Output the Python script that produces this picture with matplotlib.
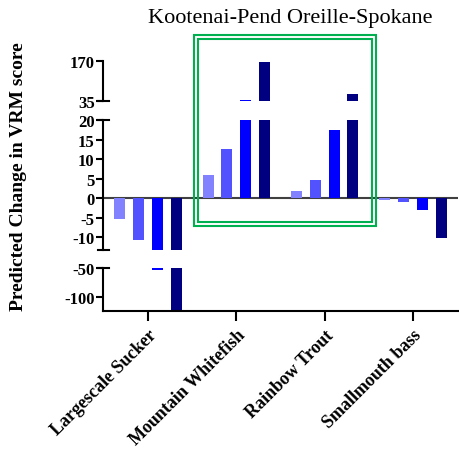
import matplotlib
matplotlib.use("Agg")
import matplotlib.pyplot as plt
from matplotlib.patches import Rectangle
import numpy as np

# ---- data ----
categories = ["Largescale Sucker", "Mountain Whitefish", "Rainbow Trout", "Smallmouth bass"]
series1 = [-5.5, 6.0, 1.8, -0.5]
series2 = [-10.8, 12.6, 4.6, -1.1]
# values beyond the axis breaks
series3 = [-53.0, 38.0, 17.4, -3.0]
series4 = [-130.0, 168.0, 58.0, -10.3]
top_ticks = [35, 170]
mid_ticks = [-10, -5, 0, 5, 10, 15, 20]
bot_ticks = [-100, -50]
title = "Kootenai-Pend Oreille-Spokane"
ylabel = "Predicted Change in VRM score"

colors = ["#8282ff", "#5252ff", "#0000ff", "#000080"]
offsets = [-0.32, -0.107, 0.107, 0.32]
width = 0.125

plt.rcParams['font.family'] = ['Liberation Serif', 'DejaVu Serif']
plt.rcParams['axes.unicode_minus'] = False

W, H = 460, 456
fig = plt.figure(figsize=(W / 100, H / 100), dpi=100)

def fy(py):
    return 1 - py / H

x0 = 103 / W
xw = (458 - 103) / W
ax_top = fig.add_axes([x0, fy(102), xw, (102 - 62) / H])
ax_mid = fig.add_axes([x0, fy(251), xw, (251 - 121) / H])
ax_bot = fig.add_axes([x0, fy(312), xw, (312 - 269) / H])

x = np.arange(len(categories))
all_series = [series1, series2, series3, series4]
for ax in (ax_top, ax_mid, ax_bot):
    for s, c, o in zip(all_series, colors, offsets):
        ax.bar(x + o, s, width=width, color=c, edgecolor='none')
    ax.set_xlim(-0.51, 3.51)
    for sp in ('top', 'right'):
        ax.spines[sp].set_visible(False)
    ax.spines['left'].set_linewidth(1.5)
    ax.spines['bottom'].set_linewidth(1.5)
    ax.tick_params(axis='y', direction='out', length=5, width=1.5, labelsize=12, pad=1)

ax_top.set_ylim(35, 170)
ax_top.set_yticks(top_ticks)
ax_top.spines['bottom'].set_visible(False)
ax_top.set_xticks([])

ax_mid.set_ylim(-13.33, 20)
ax_mid.set_yticks(mid_ticks)
ax_mid.spines['bottom'].set_visible(False)
ax_mid.set_xticks([])
ax_mid.axhline(0, color='#404040', lw=1.5, zorder=0.5)

ax_bot.set_ylim(-124, -50)
ax_bot.set_yticks(bot_ticks)
ax_bot.set_xticks(x)
ax_bot.set_xticklabels(categories, rotation=45, ha='right', rotation_mode='anchor',
                       fontsize=13, fontweight='bold')
ax_bot.tick_params(axis='x', direction='out', length=7, width=1.5, pad=4)

for ax in (ax_top, ax_mid, ax_bot):
    for lab in ax.get_yticklabels():
        lab.set_fontweight('bold')

# break markers
def marker(ax, yv):
    tr = ax.get_yaxis_transform()
    ax.plot([-0.015, 0.017], [yv, yv], color='black', lw=1.5, transform=tr, clip_on=False)

marker(ax_top, 35)
marker(ax_mid, 20)
marker(ax_mid, -13.33)
marker(ax_bot, -50)

fig.text(290 / W, fy(19), title, ha='center', va='center', fontsize=16)
fig.text(19 / W, fy(177), ylabel, ha='center', va='center', rotation=90,
         fontsize=14, fontweight='bold')

# green double box
green = "#00b050"
fig.patches.append(Rectangle((194 / W, fy(227)), (376 - 194) / W, (227 - 36) / H,
                             transform=fig.transFigure, fill=False, ec=green, lw=1.5))
fig.patches.append(Rectangle((198 / W, fy(223)), (372 - 198) / W, (223 - 40) / H,
                             transform=fig.transFigure, fill=False, ec=green, lw=1.5))

fig.savefig("out.png", dpi=100)
